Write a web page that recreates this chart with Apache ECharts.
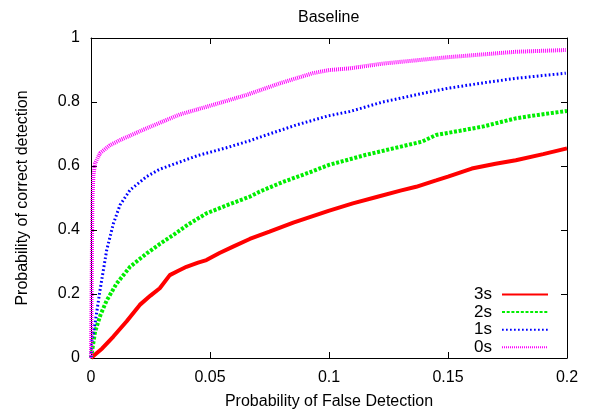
<!DOCTYPE html>
<html>
<head>
<meta charset="utf-8">
<script src="https://cdn.jsdelivr.net/npm/echarts@6/dist/echarts.min.js"></script>
<style>
html,body{margin:0;padding:0;background:#fff;}
#chart{width:592px;height:411px;}
</style>
</head>
<body>
<div id="chart"></div>
<script>
var titleText = 'Baseline';
var xName = 'Probability of False Detection';
var yName = 'Probability of correct detection';
var seriesNames = ['3s', '2s', '1s', '0s'];

var fa3 = [0, 0.0047, 0.0094, 0.0150, 0.0205, 0.0250, 0.0289, 0.0331, 0.0365, 0.0401, 0.0450, 0.0485, 0.0540, 0.0597, 0.0667, 0.0750, 0.0850, 0.0998, 0.1100, 0.1200, 0.1300, 0.1366, 0.1450, 0.1500, 0.1600, 0.1700, 0.1785, 0.1900, 0.2000];
var pd3 = [0, 0.030, 0.067, 0.115, 0.166, 0.195, 0.218, 0.259, 0.272, 0.285, 0.298, 0.306, 0.328, 0.348, 0.372, 0.395, 0.423, 0.460, 0.483, 0.503, 0.523, 0.535, 0.555, 0.567, 0.592, 0.607, 0.618, 0.637, 0.655];

var fa2 = [0, 0.0017, 0.0040, 0.0066, 0.0108, 0.0164, 0.0234, 0.0290, 0.0345, 0.0410, 0.0485, 0.0580, 0.0667, 0.0709, 0.0806, 0.0918, 0.0998, 0.1156, 0.1270, 0.1390, 0.1450, 0.1550, 0.1645, 0.1785, 0.1900, 0.2000];
var pd2 = [0, 0.082, 0.135, 0.180, 0.233, 0.285, 0.327, 0.357, 0.384, 0.418, 0.452, 0.480, 0.504, 0.520, 0.550, 0.580, 0.603, 0.635, 0.655, 0.676, 0.697, 0.710, 0.723, 0.749, 0.762, 0.772];

var fa1 = [0, 0.0003, 0.0017, 0.0038, 0.0066, 0.0094, 0.0122, 0.0164, 0.0234, 0.0289, 0.0345, 0.0450, 0.0569, 0.0667, 0.0709, 0.0862, 0.0998, 0.1086, 0.1226, 0.1400, 0.1500, 0.1650, 0.1785, 0.1995];
var pd1 = [0, 0.047, 0.108, 0.2125, 0.3375, 0.420, 0.478, 0.525, 0.567, 0.590, 0.605, 0.633, 0.657, 0.679, 0.690, 0.728, 0.757, 0.770, 0.800, 0.828, 0.843, 0.860, 0.874, 0.890];

var fa0 = [0, 0.0002, 0.0004, 0.0006, 0.0010, 0.0017, 0.0038, 0.0080, 0.0122, 0.0234, 0.0373, 0.0513, 0.0653, 0.0792, 0.0932, 0.1002, 0.1086, 0.1226, 0.1500, 0.1785, 0.1995];
var pd0 = [0, 0.15, 0.35, 0.50, 0.57, 0.608, 0.640, 0.665, 0.681, 0.718, 0.761, 0.791, 0.822, 0.858, 0.890, 0.900, 0.905, 0.920, 0.940, 0.957, 0.9625];

function zip(xs, ys) { return xs.map(function (x, i) { return [x, ys[i]]; }); }

var FONT = '"Liberation Sans", Arial, Helvetica, sans-serif';
var chart = echarts.init(document.getElementById('chart'), null, {renderer: 'canvas'});

function mkSeries(name, xs, ys, color, width, dash) {
  return {
    name: name, type: 'line', data: zip(xs, ys), showSymbol: false, symbol: 'none',
    xAxisIndex: 0, yAxisIndex: 0, animation: false, clip: true,
    lineStyle: {color: color, width: width, type: dash, cap: 'butt'},
    itemStyle: {color: color}
  };
}

var tickStyle = {show: true, inside: true, length: 6, lineStyle: {color: '#000', width: 1}};
var lineAx = {show: true, onZero: false, lineStyle: {color: '#000', width: 1}};

chart.setOption({
  animation: false,
  backgroundColor: '#fff',
  textStyle: {fontFamily: FONT},
  title: {
    text: titleText, left: 293, top: 5,
    textStyle: {fontFamily: FONT, fontSize: 16, fontWeight: 'normal', color: '#000'}
  },
  grid: {left: 91, right: 25, top: 38, bottom: 53, containLabel: false, outerBoundsMode: 'none'},
  legend: {
    orient: 'vertical', right: 38, top: 281,
    align: 'right', itemWidth: 46, itemHeight: 16, itemGap: 0.6,
    itemStyle: {opacity: 0, borderWidth: 0},
    textStyle: {fontFamily: FONT, fontSize: 17, lineHeight: 16, color: '#000', padding: [0, 5, 0, 0]},
    data: seriesNames
  },
  xAxis: [{
    type: 'value', min: 0, max: 0.2, interval: 0.05, position: 'bottom',
    name: xName, nameLocation: 'middle', nameGap: 36,
    nameTextStyle: {fontFamily: FONT, fontSize: 16, color: '#000'},
    axisLine: lineAx, axisTick: tickStyle,
    axisLabel: {fontFamily: FONT, fontSize: 16, color: '#000', margin: 12},
    splitLine: {show: false}
  }, {
    type: 'value', min: 0, max: 0.2, interval: 0.05, position: 'top',
    axisLine: lineAx, axisTick: tickStyle, axisLabel: {show: false}, splitLine: {show: false}
  }],
  yAxis: [{
    type: 'value', min: 0, max: 1, interval: 0.2, position: 'left',
    name: yName, nameLocation: 'middle', nameGap: 60, nameRotate: 90,
    nameTextStyle: {fontFamily: FONT, fontSize: 16, color: '#000'},
    axisLine: lineAx, axisTick: tickStyle,
    axisLabel: {fontFamily: FONT, fontSize: 16, color: '#000', margin: 11},
    splitLine: {show: false}
  }, {
    type: 'value', min: 0, max: 1, interval: 0.2, position: 'right',
    axisLine: lineAx, axisTick: tickStyle, axisLabel: {show: false}, splitLine: {show: false}
  }],
  series: [
    mkSeries(seriesNames[0], fa3, pd3, '#ff0000', 4, 'solid'),
    mkSeries(seriesNames[1], fa2, pd2, '#00ee00', 4, [3, 1.7]),
    mkSeries(seriesNames[2], fa1, pd1, '#0000ff', 3, [1.7, 2.3]),
    mkSeries(seriesNames[3], fa0, pd0, '#ff00ff', 4, [1, 1])
  ]
});
</script>
</body>
</html>
